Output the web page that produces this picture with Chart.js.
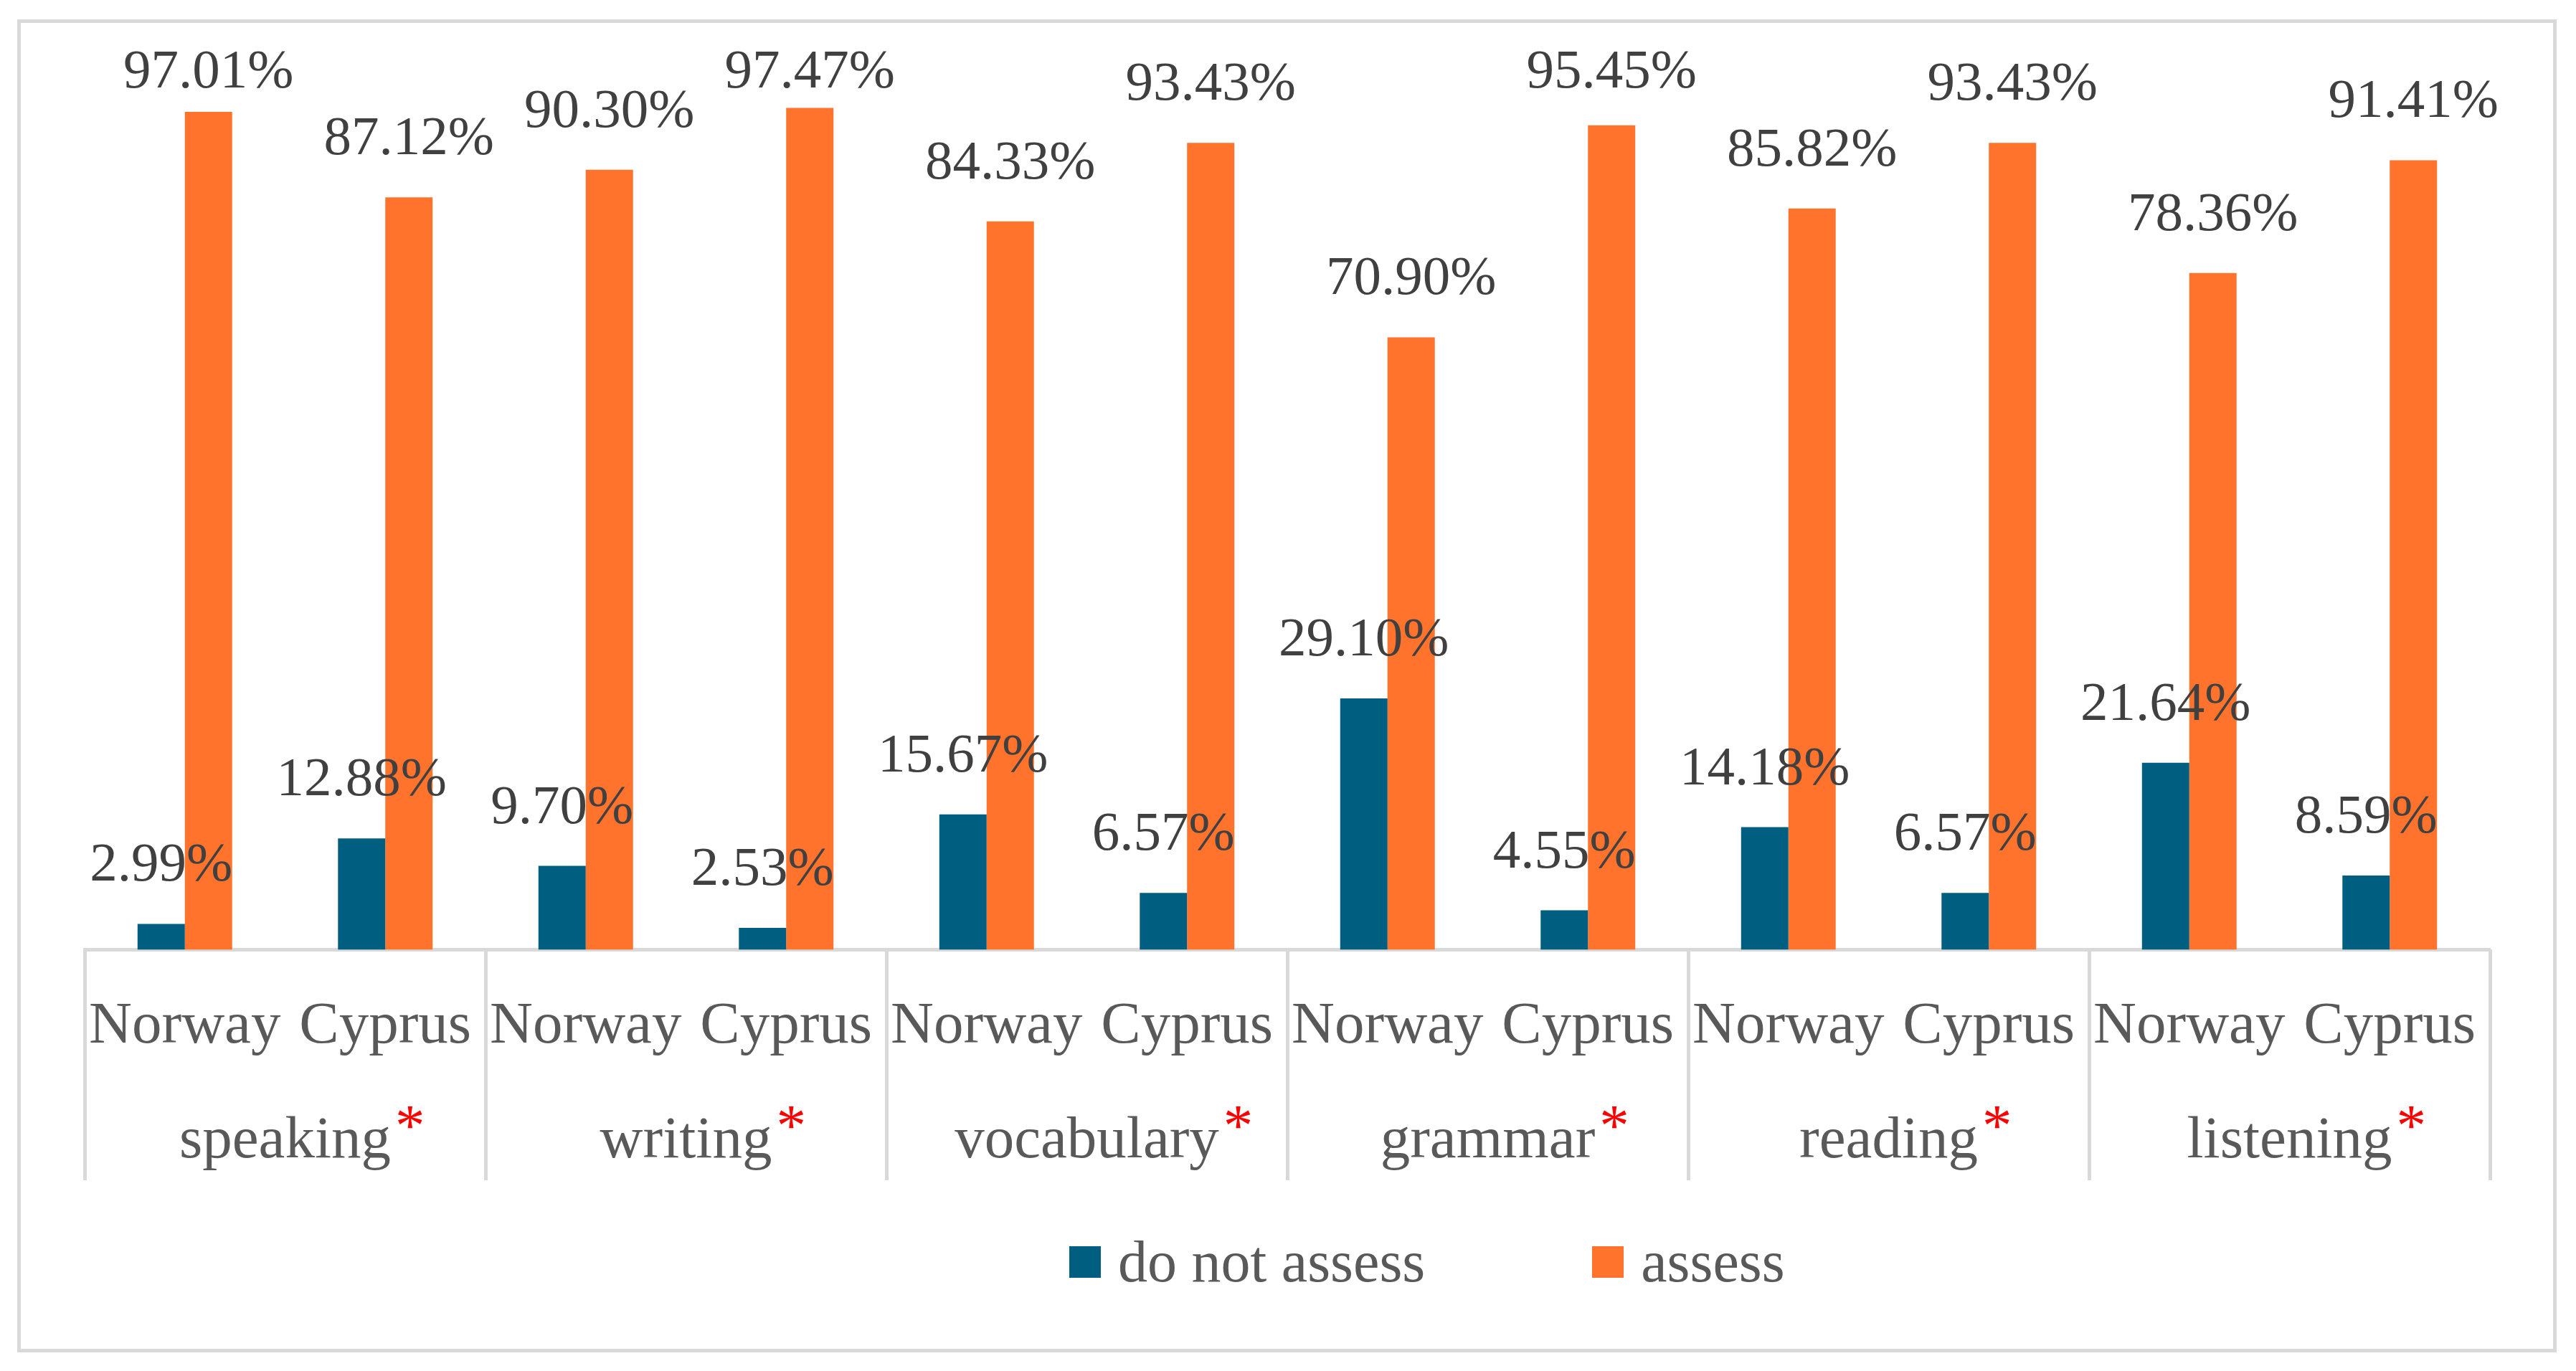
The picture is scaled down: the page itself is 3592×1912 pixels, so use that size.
<!DOCTYPE html>
<html>
<head>
<meta charset="utf-8">
<script src="https://cdn.jsdelivr.net/npm/chart.js@4.4.1/dist/chart.umd.min.js"></script>
<style>
  html, body { margin: 0; padding: 0; background: #fff; }
  #frame { position: absolute; left: 24px; top: 27px; width: 3541px; height: 1859px; box-sizing: border-box; border: 5px solid #d9d9d9; }
  #wrap { position: absolute; left: 0; top: 0; width: 3592px; height: 1912px; }
  #legend { position: absolute; left: 1491px; top: 1719px; display: flex; align-items: center;
            font: 82px 'Liberation Serif', serif; color: #595959; line-height: 82px; }
  #legend .item { display: flex; align-items: center; margin-right: 233px; }
  #legend .box { width: 44px; height: 44px; margin-right: 24px; }
</style>
</head>
<body>
<div id="frame"></div>
<div id="wrap"><canvas id="chart"></canvas></div>
<div id="legend"></div>
<script>
// two-level categories: country under each bar pair, skill under each country pair
const countries = ['Norway', 'Cyprus', 'Norway', 'Cyprus', 'Norway', 'Cyprus',
                   'Norway', 'Cyprus', 'Norway', 'Cyprus', 'Norway', 'Cyprus'];
const skills = ['speaking', 'writing', 'vocabulary', 'grammar', 'reading', 'listening'];

const doNotAssess = [2.99, 12.88, 9.70, 2.53, 15.67, 6.57, 29.10, 4.55, 14.18, 6.57, 21.64, 8.59];
const assess = [97.01, 87.12, 90.30, 97.47, 84.33, 93.43, 70.90, 95.45, 85.82, 93.43, 78.36, 91.41];

const seriesNames = ['do not assess', 'assess'];
const seriesColors = ['#005f80', '#ff732d'];

const FONT = "'Liberation Serif', serif";
const lineColor = '#d9d9d9';

// percentage labels above every bar (kept inside the plot top like Excel does)
const valueLabels = {
  id: 'valueLabels',
  afterDatasetsDraw(chart) {
    const ctx = chart.ctx;
    ctx.save();
    ctx.font = '77px ' + FONT;
    ctx.fillStyle = '#404040';
    ctx.textAlign = 'center';
    ctx.textBaseline = 'alphabetic';
    chart.data.datasets.forEach((ds, i) => {
      chart.getDatasetMeta(i).data.forEach((bar, j) => {
        const y = Math.max(bar.y - 60, chart.chartArea.top + 2);
        ctx.fillText(ds.data[j].toFixed(2) + '%', bar.x, y);
      });
    });
    ctx.restore();
  }
};

// red asterisk after each skill name
const skillMarks = {
  id: 'skillMarks',
  afterDraw(chart) {
    const scale = chart.scales.x2;
    const opts = scale.options;
    const size = opts.ticks.font.size;
    const base = chart.scales.y.getPixelForValue(0);
    const mid = base + opts.grid.tickLength + opts.ticks.padding + size * 1.2 / 2;
    const ctx = chart.ctx;
    ctx.save();
    ctx.font = size + 'px ' + FONT;
    ctx.fillStyle = '#ff0000';
    ctx.textAlign = 'left';
    ctx.textBaseline = 'middle';
    skills.forEach((s, i) => {
      const w = ctx.measureText(s).width;
      ctx.fillText('*', scale.getPixelForTick(i) + w / 2 + 6, mid - 17);
    });
    ctx.restore();
  }
};

const chart = new Chart(document.getElementById('chart'), {
  type: 'bar',
  data: {
    labels: countries,
    datasets: [
      { label: seriesNames[0], data: doNotAssess, backgroundColor: seriesColors[0],
        categoryPercentage: 0.472, barPercentage: 1 },
      { label: seriesNames[1], data: assess, backgroundColor: seriesColors[1],
        categoryPercentage: 0.472, barPercentage: 1 }
    ]
  },
  options: {
    responsive: true,
    maintainAspectRatio: false,
    animation: false,
    layout: { padding: { left: 118, right: 120, top: 120, bottom: 372 } },
    plugins: {
      legend: { display: false },
      tooltip: { enabled: false }
    },
    scales: {
      y: { display: false, min: 0, max: 100 },
      x: {
        position: 'bottom',
        offset: true,
        grid: { display: false, drawTicks: false },
        border: { display: true, color: lineColor, width: 5 },
        ticks: {
          font: { family: FONT, size: 83 },
          color: '#595959',
          padding: 58,
          maxRotation: 0,
          autoSkip: false
        }
      },
      // skill row hangs from the zero line; its tick marks are the group separators
      x2: {
        type: 'category',
        axis: 'x',
        labels: skills,
        position: { y: 0 },
        offset: true,
        grid: {
          offset: true,
          drawOnChartArea: false,
          tickLength: 322,
          lineWidth: 5,
          color: lineColor
        },
        border: { display: false },
        ticks: {
          font: { family: FONT, size: 83 },
          color: '#595959',
          padding: -104,
          maxRotation: 0,
          autoSkip: false
        }
      }
    }
  },
  plugins: [valueLabels, skillMarks]
});

// legend as html, built from the chart's own legend items
const legendEl = document.getElementById('legend');
chart.options.plugins.legend.labels.generateLabels(chart).forEach(item => {
  const el = document.createElement('div');
  el.className = 'item';
  const box = document.createElement('span');
  box.className = 'box';
  box.style.background = item.fillStyle;
  const txt = document.createElement('span');
  txt.textContent = item.text;
  el.appendChild(box);
  el.appendChild(txt);
  legendEl.appendChild(el);
});
</script>
</body>
</html>
